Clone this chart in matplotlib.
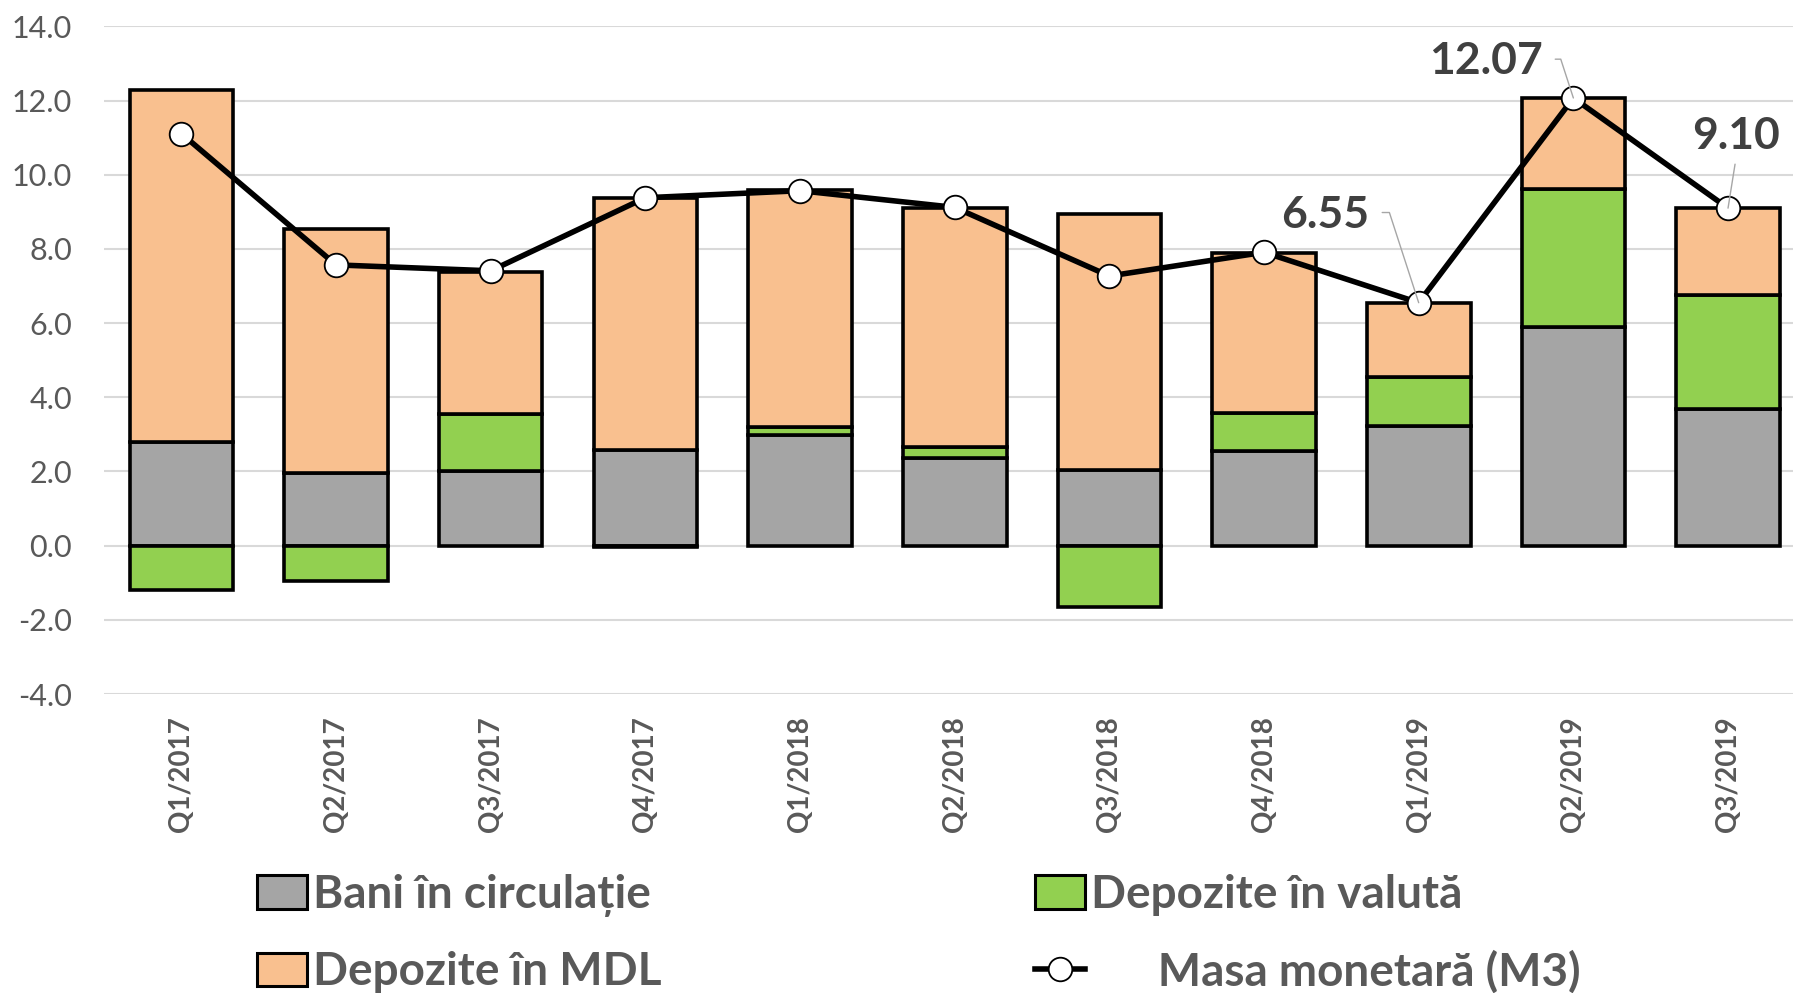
import matplotlib
matplotlib.use('Agg')
import matplotlib.pyplot as plt
import numpy as np
from matplotlib.patches import Patch
from matplotlib.lines import Line2D

plt.rcParams['font.family'] = ['Lato', 'DejaVu Sans']

quarters = ['Q1/2017', 'Q2/2017', 'Q3/2017', 'Q4/2017', 'Q1/2018', 'Q2/2018',
            'Q3/2018', 'Q4/2018', 'Q1/2019', 'Q2/2019', 'Q3/2019']
bani = [2.80, 1.95, 2.00, 2.59, 2.97, 2.35, 2.05, 2.56, 3.22, 5.89, 3.68]
valuta = [-1.19, -0.94, 1.54, -0.03, 0.23, 0.32, -1.65, 1.01, 1.33, 3.73, 3.09]
mdl = [9.48, 6.58, 3.85, 6.79, 6.40, 6.43, 6.88, 4.32, 2.00, 2.45, 2.33]
m3 = [11.11, 7.57, 7.41, 9.38, 9.57, 9.12, 7.27, 7.91, 6.55, 12.07, 9.10]

# labelled points: index -> text offset in points
labelled = {8: (-67, 63.5), 9: (-63, 26.5), 10: (6, 52)}

GRAY = '#A5A5A5'
GREEN = '#92D050'
ORANGE = '#F9C08F'
TXT = '#595959'

fig = plt.figure(figsize=(17.93, 9.93), dpi=100)
ax = fig.add_axes([104 / 1793, 1 - 694 / 993, 1 - 104 / 1793, (694 - 26.4) / 993])

x = np.arange(len(quarters))
bani_a = np.array(bani)
val_a = np.array(valuta)
mdl_a = np.array(mdl)
w = 0.67
edge = dict(edgecolor='black', linewidth=2.6, zorder=3)

ax.bar(x, bani_a, w, color=GRAY, **edge)
val_bottom = np.where(val_a > 0, bani_a, 0)
ax.bar(x, val_a, w, bottom=val_bottom, color=GREEN, **edge)
ax.bar(x, mdl_a, w, bottom=bani_a + np.clip(val_a, 0, None), color=ORANGE, **edge)

ax.plot(x, m3, color='black', linewidth=4.0, marker='o', markersize=17,
        markerfacecolor='white', markeredgecolor='black', markeredgewidth=1.3, zorder=5)

for i, off in labelled.items():
    if i == 10:
        ap = dict(arrowstyle='-', color='#A6A6A6', lw=1.0, shrinkA=4, shrinkB=0,
                  relpos=(0.5, 0.0))
    else:
        ap = dict(arrowstyle='-', color='#A6A6A6', lw=1.0, shrinkA=7, shrinkB=0,
                  relpos=(1.0, 0.55), connectionstyle='angle,angleA=0,angleB=-72,rad=0')
    ax.annotate(f'{m3[i]:.2f}', xy=(i, m3[i]), xytext=off, textcoords='offset points',
                ha='center', va='center', fontsize=32, fontweight='bold', color='#404040',
                arrowprops=ap, zorder=6)

ax.set_xlim(-0.5, 10.42)
ax.set_ylim(-4, 14)
ax.set_yticks(np.arange(-4, 14.1, 2))
ax.set_yticklabels([f'{v:.1f}' for v in np.arange(-4, 14.1, 2)])
ax.set_xticks(x)
ax.set_xticklabels(quarters, rotation=90, fontsize=20, fontweight='bold', color=TXT)
ax.tick_params(axis='y', labelsize=22, labelcolor=TXT, length=0, pad=23)
ax.tick_params(axis='x', length=0, pad=16)
ax.grid(axis='y', color='#D9D9D9', linewidth=1.5)
ax.set_axisbelow(True)
for s in ax.spines.values():
    s.set_visible(False)

handles = [
    Patch(facecolor=GRAY, edgecolor='black', linewidth=2.2),
    Patch(facecolor=ORANGE, edgecolor='black', linewidth=2.2),
    Patch(facecolor=GREEN, edgecolor='black', linewidth=2.2),
    Line2D([0], [0], color='black', linewidth=4.0, marker='o', markersize=17,
           markerfacecolor='white', markeredgecolor='black', markeredgewidth=1.3),
]
labels = ['Bani în circulație', 'Depozite în MDL', 'Depozite în valută',
          '      Masa monetară (M3)']
fig.legend(handles, labels, loc='upper left', bbox_to_anchor=(257 / 1793, 1 - 874 / 993),
           ncol=2, frameon=False, handlelength=1.1, handleheight=0.74, handletextpad=0.12,
           columnspacing=8.15, labelspacing=0.75, borderpad=0, borderaxespad=0,
           prop=dict(size=33, weight='bold'), labelcolor=TXT)

fig.savefig('out.png', dpi=100)
